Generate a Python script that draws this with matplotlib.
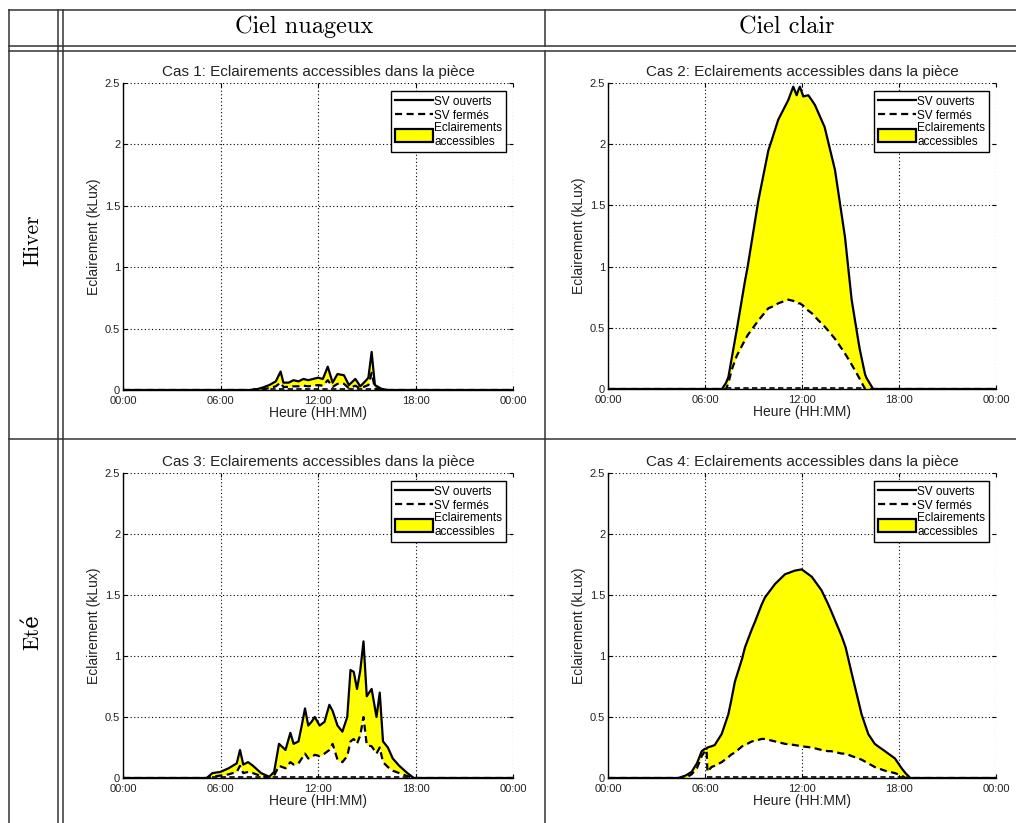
import numpy as np
import matplotlib
matplotlib.use("Agg")
import matplotlib.pyplot as plt
from matplotlib.lines import Line2D
from matplotlib.patches import Patch

plt.rcParams['font.family'] = ['Liberation Sans', 'DejaVu Sans']

# ---------------- data ----------------
col_titles = ["Ciel nuageux", "Ciel clair"]
row_titles = ["Hiver", "Eté"]
case_titles = ["Cas 1: Eclairements accessibles dans la pièce",
               "Cas 2: Eclairements accessibles dans la pièce",
               "Cas 3: Eclairements accessibles dans la pièce",
               "Cas 4: Eclairements accessibles dans la pièce"]
xtick_hours = [0, 6, 12, 18, 24]
xtick_labels = ["00:00", "06:00", "12:00", "18:00", "00:00"]
ytick_vals = [0, 0.5, 1, 1.5, 2, 2.5]
ytick_labels = ["0", "0.5", "1", "1.5", "2", "2.5"]
legend_labels = ["SV ouverts", "SV fermés", "Eclairements\naccessibles"]

h1 = [0, 7.8, 8.2, 8.6, 9.0, 9.4, 9.7, 9.87, 10.2, 10.5, 10.8, 11.1, 11.4, 11.7, 12.0,
      12.3, 12.6, 12.9, 13.2, 13.6, 13.9, 14.3, 14.6, 14.9, 15.1, 15.3, 15.5, 15.9, 16.3, 24]
open1 = [0, 0, 0.005, 0.02, 0.04, 0.07, 0.15, 0.06, 0.06, 0.08, 0.07, 0.09, 0.08, 0.09, 0.10,
         0.09, 0.19, 0.06, 0.13, 0.12, 0.04, 0.09, 0.03, 0.07, 0.10, 0.31, 0.04, 0.01, 0, 0]
closed1 = [0, 0, 0.002, 0.008, 0.015, 0.03, 0.06, 0.025, 0.025, 0.03, 0.03, 0.035, 0.03, 0.035, 0.04,
           0.035, 0.08, 0.025, 0.05, 0.05, 0.015, 0.035, 0.012, 0.03, 0.04, 0.14, 0.015, 0.004, 0, 0]

h2 = [0, 7.05, 7.3, 7.45, 7.65, 7.96, 8.47, 8.64, 9.3, 9.92, 10.12, 10.53, 11.15, 11.46, 11.67,
      11.77, 11.87, 12.08, 12.39, 12.6, 12.8, 13.4, 13.6, 14.04, 14.66, 15.07, 15.5, 15.58, 15.9,
      15.99, 16.4, 24]
open2 = [0, 0, 0.05, 0.10, 0.25, 0.48, 0.88, 1.0, 1.54, 1.95, 2.03, 2.2, 2.36, 2.47, 2.40,
         2.44, 2.47, 2.39, 2.40, 2.36, 2.32, 2.14, 2.03, 1.79, 1.24, 0.73, 0.38, 0.32, 0.12,
         0.09, 0, 0]
closed2 = [0, 0, 0, 0.05, 0.155, 0.27, 0.40, 0.44, 0.56, 0.66, 0.67, 0.70, 0.73, 0.72, 0.71,
           0.70, 0.70, 0.68, 0.64, 0.62, 0.59, 0.51, 0.48, 0.41, 0.29, 0.20, 0.10, 0.08, 0,
           0, 0, 0]

h3 = [0, 5.15, 5.5, 6.0, 6.5, 7.0, 7.2, 7.4, 7.7, 8.0, 8.5, 9.0, 9.3, 9.6, 10.0, 10.3, 10.5,
      10.8, 11.0, 11.2, 11.4, 11.6, 11.8, 12.1, 12.4, 12.7, 12.9, 13.2, 13.5, 13.8, 14.0, 14.2,
      14.4, 14.6, 14.8, 15.0, 15.3, 15.6, 15.8, 16.0, 16.3, 16.6, 17.0, 17.5, 17.9, 24]
open3 = [0, 0, 0.04, 0.05, 0.08, 0.12, 0.23, 0.11, 0.13, 0.10, 0.04, 0.01, 0.05, 0.28, 0.23,
         0.37, 0.28, 0.30, 0.43, 0.57, 0.43, 0.46, 0.50, 0.43, 0.46, 0.60, 0.55, 0.43, 0.38, 0.50,
         0.885, 0.87, 0.73, 0.88, 1.12, 0.67, 0.73, 0.50, 0.70, 0.30, 0.25, 0.16, 0.10, 0.04, 0, 0]
closed3 = [0, 0, 0.01, 0.02, 0.03, 0.05, 0.10, 0.04, 0.05, 0.04, 0.015, 0.003, 0.02, 0.10, 0.08,
           0.13, 0.11, 0.12, 0.16, 0.20, 0.16, 0.17, 0.19, 0.18, 0.20, 0.23, 0.28, 0.15, 0.13, 0.18,
           0.30, 0.32, 0.28, 0.35, 0.50, 0.27, 0.26, 0.20, 0.25, 0.13, 0.09, 0.06, 0.04, 0.015, 0, 0]

h4 = [0, 4.35, 4.8, 5.17, 5.5, 5.8, 6.0, 6.1, 6.15, 6.4, 6.6, 7.03, 7.44, 7.6, 7.85, 8.3, 8.47,
      8.9, 9.09, 9.5, 9.71, 10.33, 10.95, 11.56, 11.98, 12.6, 13.2, 13.6, 13.8, 14.46, 14.7, 15.07,
      15.69, 16.1, 16.5, 16.7, 17.13, 17.75, 18.16, 18.4, 18.7, 24]
open4 = [0, 0, 0.02, 0.05, 0.12, 0.22, 0.24, 0.24, 0.25, 0.26, 0.27, 0.36, 0.52, 0.62, 0.79, 0.98,
         1.07, 1.22, 1.28, 1.42, 1.48, 1.59, 1.67, 1.70, 1.71, 1.65, 1.54, 1.43, 1.37, 1.16, 1.07,
         0.86, 0.52, 0.36, 0.28, 0.26, 0.22, 0.16, 0.08, 0.04, 0, 0]
closed4 = [0, 0, 0, 0.03, 0.08, 0.18, 0.22, 0.23, 0.05, 0.09, 0.10, 0.13, 0.17, 0.19, 0.21, 0.26,
           0.27, 0.30, 0.305, 0.32, 0.32, 0.30, 0.28, 0.27, 0.26, 0.25, 0.23, 0.22, 0.22, 0.20, 0.20,
           0.18, 0.15, 0.12, 0.09, 0.08, 0.06, 0.04, 0.02, 0, 0, 0]

# short dashed trace just above zero during daylight (start hour, end hour, level)
floor_start = [8.0, 7.3, 5.5, 6.1]
floor_end = [16.0, 15.9, 17.8, 18.5]
floor_level = [0.006, 0.008, 0.008, 0.008]

hours = [h1, h2, h3, h4]
opens = [open1, open2, open3, open4]
closeds = [closed1, closed2, closed3, closed4]

# ---------------- figure ----------------
W, H = 1016, 823
fig = plt.figure(figsize=(W / 100, H / 100), dpi=100)
fig.patch.set_facecolor("white")


def fx(x):
    return x / W


def fy(y):
    return 1 - y / H


def hline(y, x0, x1):
    fig.add_artist(Line2D([fx(x0), fx(x1)], [fy(y), fy(y)], color="#333333", lw=1.1,
                          transform=fig.transFigure))


def vline(x, y0, y1):
    fig.add_artist(Line2D([fx(x), fx(x)], [fy(y0), fy(y1)], color="#333333", lw=1.1,
                          transform=fig.transFigure))


# table lines
hline(10, 9, W)
hline(45.5, 9, W)
hline(51, 9, W)
hline(438.5, 9, W)
vline(9, 10, H)
vline(57.5, 10, H)
vline(63, 10, H)
vline(545, 10, 45.5)
vline(545, 51, H)

serif = ['cmr10', 'DejaVu Serif']
fig.text(fx(304), fy(27), col_titles[0], family=serif, fontsize=17.5, ha="center", va="center")
fig.text(fx(787), fy(27), col_titles[1], family=serif, fontsize=17.5, ha="center", va="center")
fig.text(fx(33), fy(240), row_titles[0], family=serif, fontsize=15.5, ha="center", va="center",
         rotation=90)
fig.text(fx(33), fy(632), row_titles[1], family=serif, fontsize=15.5, ha="center", va="center",
         rotation=90)

# axes rectangles in pixels: left, top, right, bottom
rects = [(123, 83, 513, 390), (608, 83, 996, 389), (123, 473, 513, 778), (608, 473, 996, 778)]

dot = (0, (1, 2.2))
dash = (0, (3.2, 2.0))
for i, (l, t, r, b) in enumerate(rects):
    ax = fig.add_axes([fx(l), fy(b), fx(r - l), (b - t) / H])
    x = np.array(hours[i])
    yo = np.array(opens[i])
    yc = np.array(closeds[i])
    ax.fill_between(x, yc, yo, color="#FFFF00", lw=0, zorder=2)
    ax.plot(x, yo, color="black", lw=1.6, zorder=4)
    ax.plot(x, yc, color="black", lw=1.6, ls=dash, zorder=4)
    ax.plot([floor_start[i], floor_end[i]], [floor_level[i], floor_level[i]], color="black",
            lw=1.2, ls=dash, zorder=4)
    ax.set_xlim(0, 24)
    ax.set_ylim(0, 2.5)
    ax.set_xticks(xtick_hours)
    ax.set_xticklabels(xtick_labels)
    ax.set_yticks(ytick_vals)
    ax.set_yticklabels(ytick_labels)
    ax.tick_params(direction="in", length=3, width=0.8, labelsize=8,
                   top=True, right=True, colors="black", labelcolor="#222222")
    ax.tick_params(axis="x", pad=4)
    ax.tick_params(axis="y", pad=2)
    ax.grid(True, color="black", ls=dot, lw=0.8)
    for s in ["top", "right"]:
        ax.spines[s].set_visible(False)
    for s in ["left", "bottom"]:
        ax.spines[s].set_linewidth(1.0)
    ax.set_title(case_titles[i], fontsize=11, pad=5, color="#222222")
    ax.set_xlabel("Heure (HH:MM)", fontsize=10, labelpad=0, color="#222222")
    ax.set_ylabel("Eclairement (kLux)", fontsize=10, labelpad=3, color="#222222")
    handles = [Line2D([], [], color="black", lw=1.6),
               Line2D([], [], color="black", lw=1.6, ls=dash),
               Patch(facecolor="#FFFF00", edgecolor="black", lw=1.6)]
    leg = ax.legend(handles, legend_labels, loc="upper right", bbox_to_anchor=(0.982, 0.974),
                    borderaxespad=0, fontsize=8.5, handlelength=3.2, handleheight=1.3,
                    labelspacing=0.05, borderpad=0.3, handletextpad=0.15, fancybox=False,
                    framealpha=1, edgecolor="black")
    leg.get_frame().set_linewidth(1.0)
    leg.set_zorder(10)

fig.savefig("out.png", dpi=100, facecolor="white")
